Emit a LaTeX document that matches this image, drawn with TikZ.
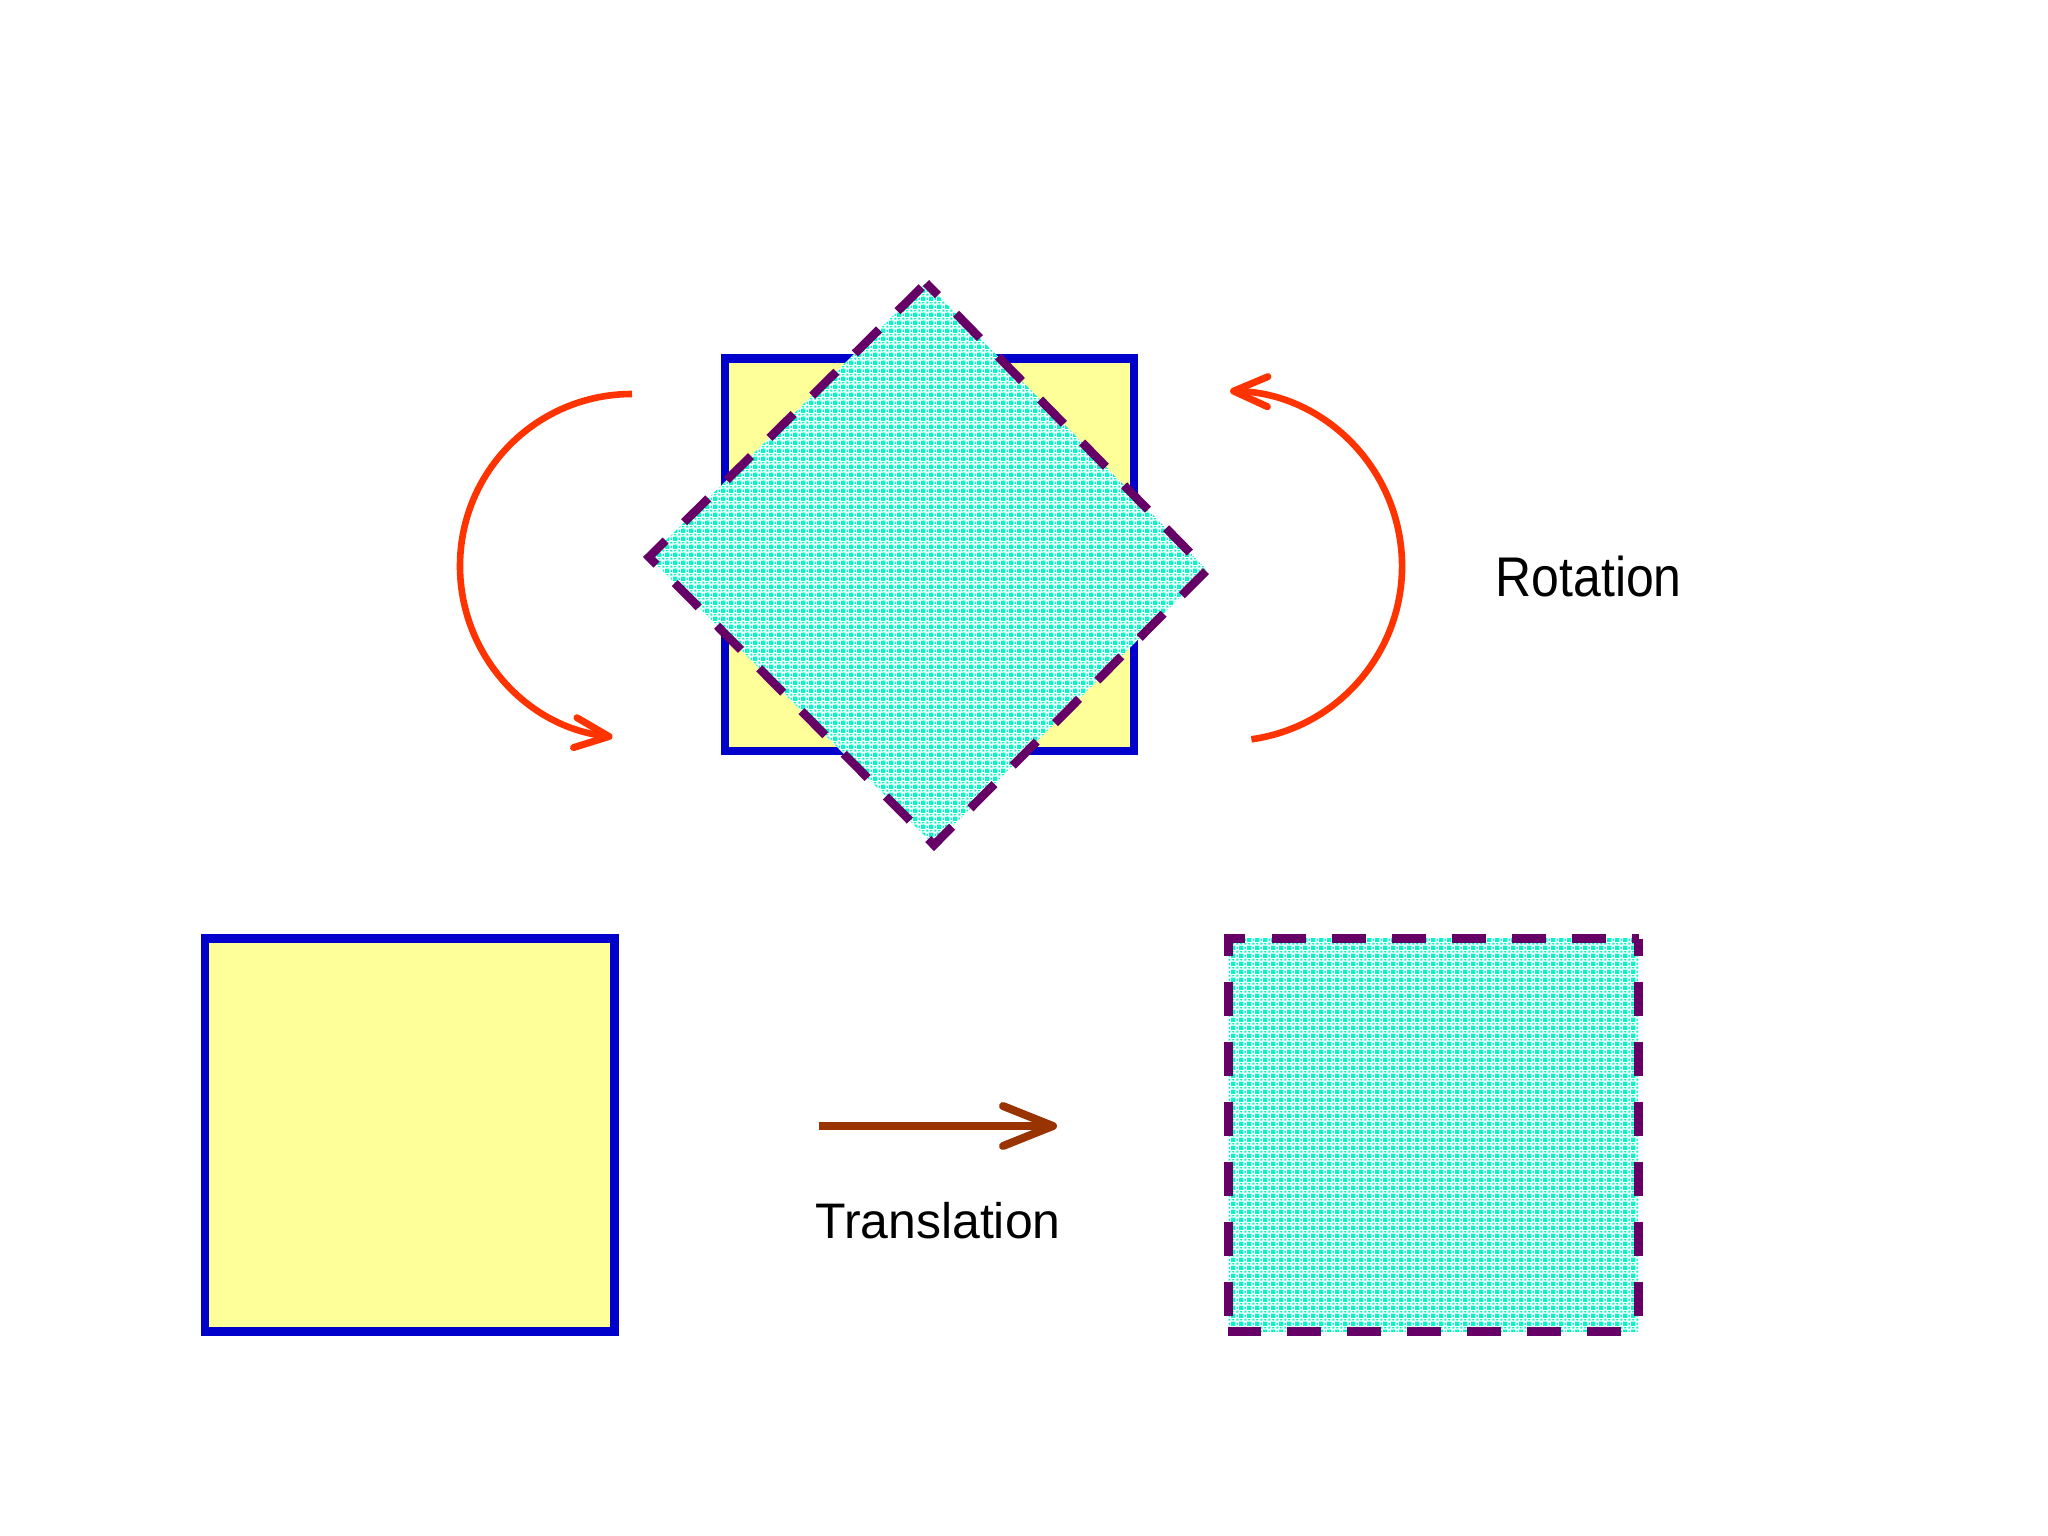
\documentclass[tikz,border=0pt]{standalone}
\usepackage{fontspec}
\setmainfont{Liberation Sans}
\usetikzlibrary{arrows.meta,patterns}
\definecolor{sqyellow}{RGB}{255,255,153}
\definecolor{sqblue}{RGB}{0,0,204}
\definecolor{dpurple}{RGB}{102,0,102}
\definecolor{rotred}{RGB}{255,51,0}
\definecolor{trbrown}{RGB}{153,51,0}
\definecolor{tq}{RGB}{10,245,200}
\pgfdeclarepatternformonly{tqdots}{\pgfpointorigin}{\pgfpoint{2.4pt}{2.4pt}}{\pgfpoint{2.4pt}{2.4pt}}{%
 \pgfpathrectangle{\pgfpoint{0pt}{0pt}}{\pgfpoint{1.35pt}{1.35pt}}%
 \pgfpathrectangle{\pgfpoint{1.65pt}{1.65pt}}{\pgfpoint{0.6pt}{0.6pt}}%
 \pgfpathrectangle{\pgfpoint{1.7pt}{0.35pt}}{\pgfpoint{0.4pt}{0.7pt}}%
 \pgfpathrectangle{\pgfpoint{0.3pt}{1.7pt}}{\pgfpoint{0.7pt}{0.4pt}}%
 \pgfusepath{fill}}
\tikzset{
 solidsq/.style={draw=sqblue, fill=sqyellow, line width=0.086cm, minimum width=4.09cm, minimum height=3.925cm, inner sep=0pt, outer sep=0pt},
 patsq/.style={minimum width=4.1cm, minimum height=3.925cm, inner sep=0pt, outer sep=0pt},
 dashedge/.style={draw=dpurple, line width=0.085cm, dash pattern=on 0.34cm off 0.26cm},
 patfill/.style={pattern=tqdots, pattern color=tq},
 rotarrow/.style={draw=rotred, line width=0.066cm, -{Straight Barb[length=0.34cm,width=0.30cm,line width=0.07cm,round]}},
 transarrow/.style={draw=trbrown, line width=0.075cm, -{Straight Barb[length=0.50cm,width=0.40cm,line width=0.08cm,round]}},
 lbl/.style={font=\fontsize{14.2pt}{17pt}\selectfont, inner sep=0pt},
}
\begin{document}
\begin{tikzpicture}[x=0.01cm, y=-0.01cm]
\fill[white] (0,0) rectangle (2048,1536);
\useasboundingbox (0,0) rectangle (2048,1536);

% top: square and rotated copy
\node[solidsq] (topsq) at (929.5,554.75) {};
\coordinate (dT) at (926,283);
\coordinate (dR) at (1207,570);
\coordinate (dB) at (934,845);
\coordinate (dL) at (649,557);
\fill[white] (dT) -- (dR) -- (dB) -- (dL) -- cycle;
\fill[patfill] (dT) -- (dR) -- (dB) -- (dL) -- cycle;
\draw[dashedge, dash phase=0.17cm] (dT) -- (dR) -- (dB) -- (dL) -- cycle;

% rotation arrows
\coordinate (lstart) at (632,394);
\draw[rotarrow] (lstart) arc[start angle=270, end angle=96.5, radius=172];
\coordinate (rstart) at (1251.4,739.3);
\draw[rotarrow] (rstart) arc[start angle=82, end angle=-89, radius=175];
\node[lbl, anchor=base west] (rotlbl) at (1495,596.7) {\scalebox{1}[1.12]{Rotation}};

% bottom: translation
\node[solidsq] (leftsq) at (409.65,1134.85) {};
\node[patsq] (rightsq) at (1433.6,1135.05) {};
\fill[white] (rightsq.north west) rectangle (rightsq.south east);
\fill[patfill] (rightsq.north west) rectangle (rightsq.south east);
\draw[dashedge, dash phase=0.445cm] (rightsq.south west) -- (rightsq.north west) -- (rightsq.north east);
\draw[dashedge, dash phase=0.17cm] (rightsq.north east) -- (rightsq.south east);
\draw[dashedge, dash phase=0.425cm] (rightsq.south east) -- (rightsq.south west);

\coordinate (ta) at (819,1126);
\coordinate (tb) at (1057,1126);
\draw[transarrow] (ta) -- (tb);
\node[lbl, anchor=base] (translbl) at (938,1238) {Translation};
\end{tikzpicture}
\end{document}
